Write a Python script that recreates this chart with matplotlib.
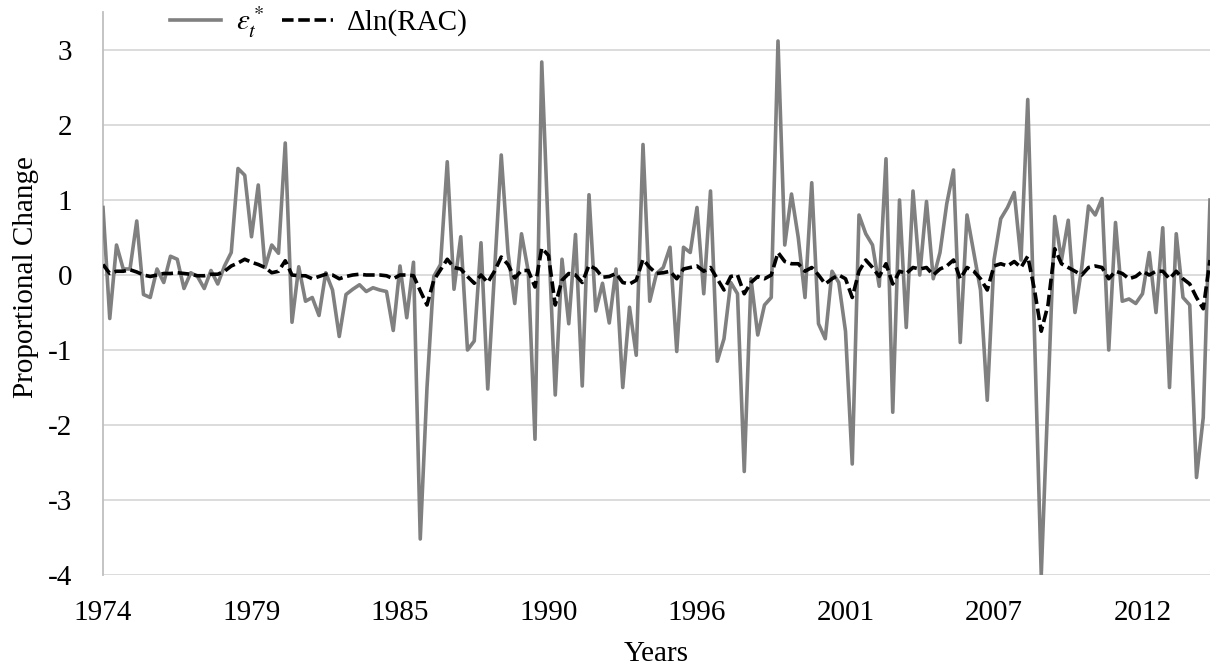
import matplotlib
matplotlib.use("Agg")
import matplotlib.pyplot as plt
import numpy as np

# Quarterly observations, 1974Q1 - 2015Q1
eps_star = [
    0.90, -0.58, 0.40, 0.08, 0.08, 0.72, -0.26, -0.30, 0.08, -0.10,
    0.25, 0.21, -0.18, 0.03, -0.02, -0.18, 0.06, -0.12, 0.12, 0.30,
    1.42, 1.33, 0.51, 1.20, 0.10, 0.40, 0.29, 1.76, -0.63, 0.11,
    -0.35, -0.30, -0.54, 0.03, -0.20, -0.82, -0.26, -0.19, -0.13, -0.22,
    -0.17, -0.20, -0.22, -0.74, 0.12, -0.57, 0.17, -3.52, -1.50, -0.02,
    0.14, 1.51, -0.19, 0.51, -1.00, -0.88, 0.43, -1.52, 0.05, 1.60,
    0.30, -0.38, 0.55, 0.05, -2.19, 2.84, 0.50, -1.60, 0.21, -0.65,
    0.54, -1.48, 1.07, -0.48, -0.11, -0.64, 0.08, -1.50, -0.43, -1.07,
    1.74, -0.35, 0.02, 0.10, 0.37, -1.02, 0.37, 0.30, 0.90, -0.25,
    1.12, -1.15, -0.85, -0.10, -0.25, -2.62, -0.05, -0.80, -0.40, -0.30,
    3.12, 0.40, 1.08, 0.50, -0.30, 1.23, -0.65, -0.85, 0.05, -0.10,
    -0.75, -2.52, 0.80, 0.55, 0.40, -0.15, 1.55, -1.83, 1.00, -0.70,
    1.12, 0.00, 0.98, -0.05, 0.30, 0.95, 1.40, -0.90, 0.80, 0.30,
    -0.20, -1.67, 0.20, 0.75, 0.90, 1.10, 0.20, 2.34, -0.80, -4.00,
    -1.60, 0.78, 0.20, 0.73, -0.50, 0.10, 0.92, 0.80, 1.02, -1.00,
    0.70, -0.35, -0.32, -0.38, -0.25, 0.30, -0.50, 0.63, -1.50, 0.55,
    -0.30, -0.40, -2.70, -1.90, 1.00,
]

dln_rac = [
    0.14, 0.02, 0.05, 0.05, 0.07, 0.04, 0.00, -0.02, 0.00, 0.02,
    0.02, 0.03, 0.02, 0.01, -0.01, -0.01, 0.01, 0.01, 0.05, 0.12,
    0.16, 0.21, 0.17, 0.14, 0.10, 0.03, 0.05, 0.19, 0.00, -0.01,
    -0.01, -0.05, -0.02, 0.01, 0.00, -0.05, -0.02, 0.00, 0.01, 0.00,
    0.00, 0.00, -0.01, -0.05, 0.00, 0.00, -0.01, -0.21, -0.40, -0.07,
    0.07, 0.21, 0.10, 0.08, -0.02, -0.11, 0.00, -0.10, 0.05, 0.24,
    0.14, -0.04, 0.06, 0.06, -0.16, 0.36, 0.26, -0.40, -0.07, 0.02,
    0.00, -0.10, 0.13, 0.08, -0.03, -0.02, 0.02, -0.10, -0.12, -0.07,
    0.21, 0.10, 0.02, 0.03, 0.05, -0.05, 0.08, 0.10, 0.12, 0.05,
    0.10, -0.05, -0.20, -0.02, 0.00, -0.25, -0.10, -0.02, -0.05, 0.00,
    0.30, 0.18, 0.15, 0.15, 0.05, 0.10, 0.00, -0.12, -0.05, 0.00,
    -0.05, -0.30, 0.05, 0.20, 0.10, -0.02, 0.15, -0.12, 0.05, 0.02,
    0.10, 0.08, 0.10, 0.00, 0.08, 0.12, 0.20, -0.05, 0.10, 0.05,
    -0.05, -0.20, 0.12, 0.15, 0.12, 0.18, 0.10, 0.25, -0.20, -0.75,
    -0.40, 0.35, 0.15, 0.10, 0.05, 0.00, 0.10, 0.12, 0.10, -0.05,
    0.05, 0.02, -0.05, -0.02, 0.05, 0.00, 0.05, 0.05, -0.05, 0.05,
    -0.05, -0.12, -0.30, -0.45, 0.20,
]

year_labels = ["1974", "1979", "1985", "1990", "1996", "2001", "2007", "2012"]
label_step = 22  # quarters between labelled categories
y_ticks = [3, 2, 1, 0, -1, -2, -3, -4]

plt.rcParams["font.family"] = ["Liberation Serif", "DejaVu Serif"]
plt.rcParams["mathtext.fontset"] = "stix"

W, H = 1219, 667
fig = plt.figure(figsize=(W / 100, H / 100), dpi=100)
ax = fig.add_axes([103 / W, 1 - 575 / H, (1210 - 103) / W, (575 - 12.5) / H])

x = np.arange(len(eps_star))
ax.plot(x, eps_star, color="#808080", lw=2.6, solid_joinstyle="round",
        label=r"$\varepsilon_t^*$", zorder=3)
ax.plot(x, dln_rac, color="black", lw=2.6, dashes=(3.2, 1.3),
        label="\u0394ln(RAC)", zorder=4)

ax.set_xlim(0, len(eps_star) - 1)
ax.set_ylim(-4, 3.5)
ax.set_yticks(y_ticks)
ax.set_yticklabels([str(v) for v in y_ticks])
ax.set_xticks(np.arange(len(year_labels)) * label_step)
ax.set_xticklabels(year_labels)

ax.grid(axis="y", color="#d9d9d9", lw=1.3, zorder=0)
ax.grid(axis="x", visible=False)
for side in ("top", "right", "bottom"):
    ax.spines[side].set_visible(False)
ax.spines["left"].set_color("#bfbfbf")
ax.spines["left"].set_linewidth(1.3)

ax.tick_params(axis="both", length=0, labelsize=21, colors="black")
ax.tick_params(axis="x", pad=18)
ax.tick_params(axis="y", pad=22)

ax.set_xlabel("Years", fontsize=21, labelpad=11)
ax.set_ylabel("Proportional Change", fontsize=21)
ax.yaxis.set_label_coords(-0.058, 0.53)

ax.legend(loc="center left", bbox_to_anchor=(170 / W, 1 - 22 / H),
          bbox_transform=fig.transFigure, ncol=2, frameon=False,
          fontsize=21, handlelength=1.75, handletextpad=0.5,
          columnspacing=0.6, borderaxespad=0, borderpad=0)

fig.savefig("out.png", dpi=100, facecolor="white")
